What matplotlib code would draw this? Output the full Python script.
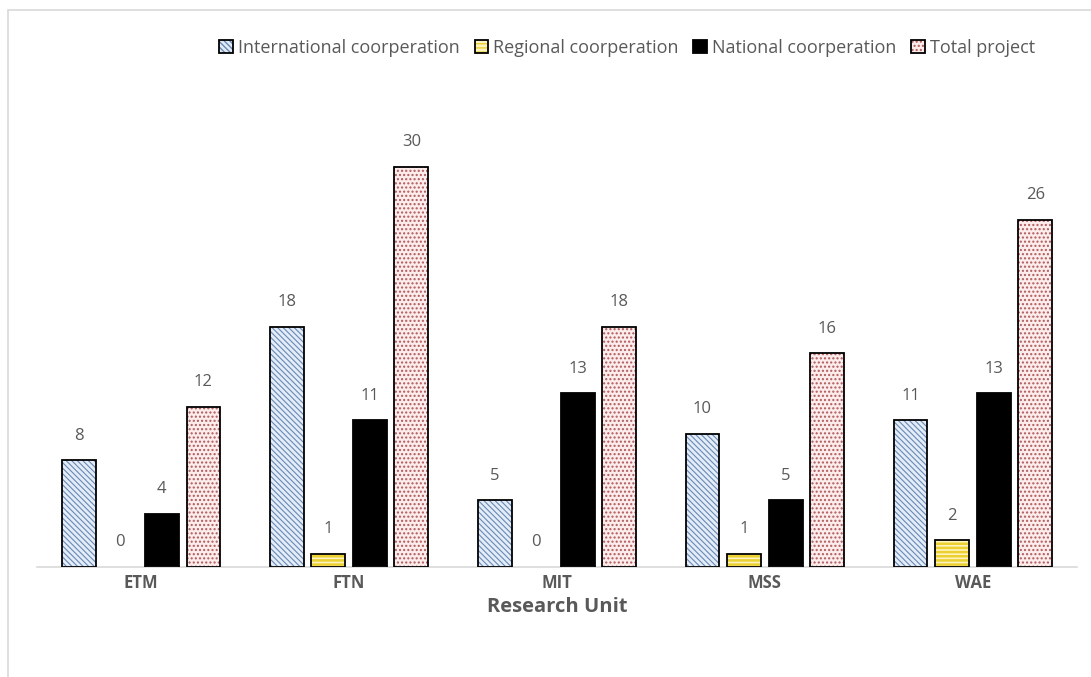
import numpy as np
import matplotlib.pyplot as plt
from matplotlib.patches import Patch, Rectangle
from matplotlib.legend_handler import HandlerTuple

plt.rcParams['font.family'] = ['Open Sans', 'DejaVu Sans']

units = ['ETM', 'FTN', 'MIT', 'MSS', 'WAE']
international = [8, 18, 5, 10, 11]
regional = [0, 1, 0, 1, 2]
national = [4, 11, 13, 5, 13]
total = [12, 30, 18, 16, 26]

# name, values, face colour, hatch colour, hatch, hatch line width
series = [
    ('International coorperation', international, '#e3edf8', '#6a88b5', '\\' * 6, 0.8),
    ('Regional coorperation', regional, '#fdf3c0', '#ecd030', '-' * 4, 1.8),
    ('National coorperation', national, '#000000', '#000000', None, 1.0),
    ('Total project', total, '#fcecec', '#b05a5a', '.' * 4, 1.0),
]

text_col = '#595959'

fig = plt.figure(figsize=(10.91, 6.77), dpi=100)
ax = fig.add_axes([0.034, 0.1625, 0.953, 0.69])

# outer frame of the chart area
fig.patches.append(Rectangle((8 / 1091, -0.01), 1.1, 1 - 10 / 677 + 0.01,
                             transform=fig.transFigure, fill=False,
                             edgecolor='#d9d9d9', linewidth=1.2))

x = np.arange(len(units))
width = 0.163
step = 0.2
handles = []
for i, (name, vals, face, hcol, hatch, hlw) in enumerate(series):
    pos = x + (i - 1.5) * step
    edges = ['black' if v > 0 else 'none' for v in vals]
    with plt.rc_context({'hatch.linewidth': hlw}):
        # hatch layer in its own colour, then black outline on top
        ax.bar(pos, vals, width, color=face, edgecolor=hcol, hatch=hatch,
               linewidth=0, zorder=2)
        h1 = Patch(facecolor=face, edgecolor=hcol, hatch=hatch, linewidth=0)
    ax.bar(pos, vals, width, fill=False, edgecolor=edges,
           linewidth=1.3, zorder=3)
    for xp, v in zip(pos, vals):
        ax.annotate(str(v), (xp, v), xytext=(0, 12), textcoords='offset points',
                    ha='center', va='bottom', fontsize=12, color=text_col)
    h2 = Patch(fill=False, edgecolor='black', linewidth=1.3)
    handles.append((h1, h2))

ax.set_xlim(-0.5, 4.5)
ax.set_ylim(0, 35)
ax.set_yticks([])
for s in ['top', 'right', 'left']:
    ax.spines[s].set_visible(False)
ax.spines['bottom'].set_color('#d9d9d9')
ax.spines['bottom'].set_linewidth(1.2)
ax.set_xticks(x)
ax.set_xticklabels(units, fontsize=12, fontweight='bold', color=text_col)
ax.tick_params(axis='x', length=0, pad=5)
ax.set_xlabel('Research Unit', fontsize=14.5, fontweight='bold', color=text_col,
              labelpad=4)

leg = fig.legend(handles, [s[0] for s in series],
                 handler_map={tuple: HandlerTuple(ndivide=1)},
                 loc='center', bbox_to_anchor=(0.575, 1 - 48 / 677), ncol=4,
                 frameon=False, fontsize=13, handlelength=0.75, handleheight=0.75,
                 handletextpad=0.3, columnspacing=0.8)
for t in leg.get_texts():
    t.set_color(text_col)

fig.savefig('out.png', dpi=100)
